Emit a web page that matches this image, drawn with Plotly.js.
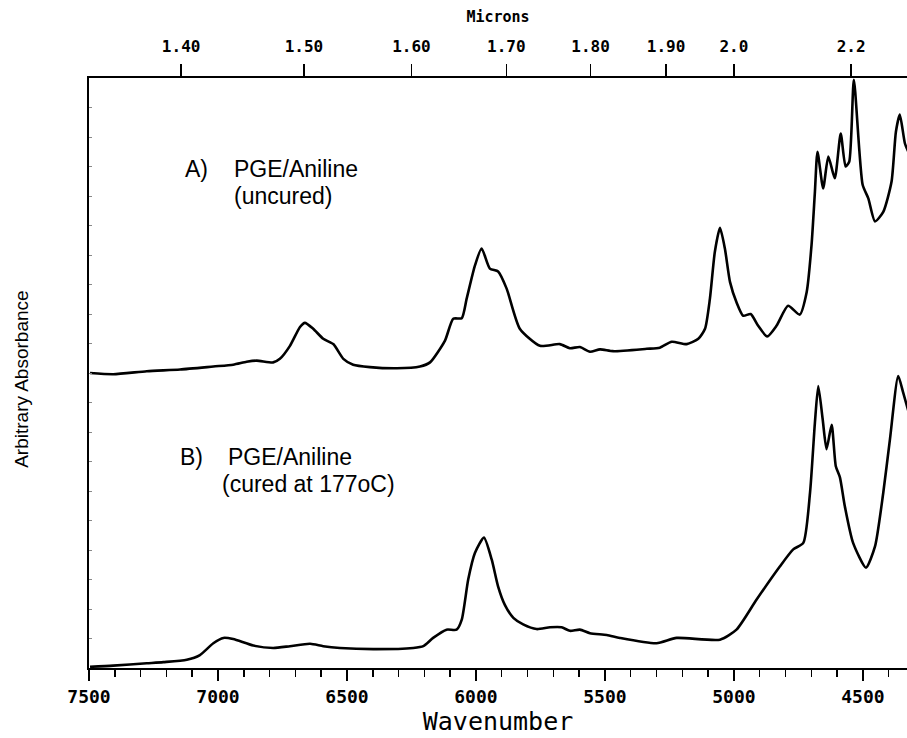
<!DOCTYPE html>
<html>
<head>
<meta charset="utf-8">
<script src="https://cdn.plot.ly/plotly-3.0.1.min.js"></script>
<style>
  html, body { margin: 0; padding: 0; background: #fff; }
  #chart { width: 907px; height: 738px; }
</style>
</head>
<body>
<div id="chart"></div>
<script>
// Wavenumber (cm-1) and arbitrary absorbance
const waveA = [7496, 7406, 7276, 7147, 7018, 6941, 6889, 6850, 6786, 6760, 6721, 6682, 6663, 6631, 6592, 6553, 6514, 6476, 6411, 6307, 6217, 6178, 6120, 6088, 6055, 6036, 6004, 5978, 5946, 5914, 5881, 5830, 5752, 5675, 5636, 5597, 5558, 5519, 5468, 5338, 5287, 5241, 5183, 5138, 5112, 5093, 5074, 5054, 5035, 5015, 4990, 4964, 4935, 4906, 4871, 4835, 4790, 4745, 4718, 4699, 4686, 4676, 4654, 4634, 4609, 4586, 4567, 4553, 4535, 4501, 4479, 4453, 4421, 4389, 4372, 4357, 4337, 4324];
const absA  = [0.500, 0.498, 0.503, 0.506, 0.511, 0.514, 0.519, 0.521, 0.518, 0.524, 0.546, 0.578, 0.585, 0.575, 0.558, 0.549, 0.524, 0.514, 0.510, 0.508, 0.511, 0.518, 0.555, 0.592, 0.593, 0.626, 0.682, 0.711, 0.677, 0.672, 0.643, 0.575, 0.546, 0.549, 0.542, 0.544, 0.536, 0.540, 0.537, 0.541, 0.543, 0.553, 0.549, 0.558, 0.575, 0.626, 0.705, 0.746, 0.711, 0.654, 0.620, 0.597, 0.600, 0.580, 0.562, 0.580, 0.614, 0.599, 0.637, 0.717, 0.807, 0.875, 0.813, 0.867, 0.830, 0.906, 0.850, 0.858, 0.997, 0.819, 0.796, 0.757, 0.773, 0.824, 0.909, 0.938, 0.889, 0.875];

const waveB = [7496, 7406, 7276, 7212, 7121, 7070, 7018, 6979, 6941, 6863, 6786, 6721, 6643, 6592, 6527, 6398, 6243, 6204, 6166, 6114, 6075, 6055, 6030, 6004, 5969, 5939, 5914, 5888, 5855, 5817, 5765, 5713, 5668, 5636, 5597, 5558, 5493, 5442, 5300, 5222, 5054, 4990, 4912, 4822, 4770, 4731, 4705, 4686, 4673, 4656, 4641, 4621, 4605, 4589, 4570, 4538, 4488, 4453, 4421, 4395, 4363, 4344, 4324];
const absB  = [0.002, 0.004, 0.008, 0.010, 0.014, 0.022, 0.042, 0.051, 0.049, 0.038, 0.034, 0.037, 0.041, 0.037, 0.034, 0.032, 0.034, 0.037, 0.051, 0.065, 0.065, 0.082, 0.150, 0.195, 0.221, 0.184, 0.138, 0.107, 0.085, 0.074, 0.066, 0.069, 0.069, 0.063, 0.065, 0.059, 0.056, 0.051, 0.042, 0.051, 0.048, 0.065, 0.116, 0.172, 0.201, 0.212, 0.297, 0.416, 0.478, 0.422, 0.371, 0.412, 0.342, 0.323, 0.274, 0.212, 0.170, 0.206, 0.297, 0.388, 0.495, 0.467, 0.436];

const waveTicks = [7500, 7000, 6500, 6000, 5500, 5000, 4500];
const micronLabels = ['1.40', '1.50', '1.60', '1.70', '1.80', '1.90', '2.0', '2.2'];
const micronValues = [1.40, 1.50, 1.60, 1.70, 1.80, 1.90, 2.0, 2.2];

const labelA = ['A)', 'PGE/Aniline', '(uncured)'];
const labelB = ['B)', 'PGE/Aniline', '(cured at 177oC)'];

const xRange = [7500, 4329];
const plotFont = 'DejaVu Sans Mono, monospace';
const textFont = 'Liberation Sans, Arial, Helvetica, sans-serif';

const lineStyle = { color: '#000', width: 2.6, shape: 'spline', smoothing: 0.6 };
const traces = [
  { x: waveA, y: absA, xaxis: 'x2', yaxis: 'y', mode: 'lines', line: lineStyle, hoverinfo: 'skip', showlegend: false },
  { x: waveB, y: absB, xaxis: 'x', yaxis: 'y', mode: 'lines', line: lineStyle, hoverinfo: 'skip', showlegend: false }
];

function note(text, x, y) {
  return { xref: 'paper', yref: 'paper', x: x, y: y, text: text, showarrow: false,
           xanchor: 'left', yanchor: 'middle', font: { family: textFont, size: 23 } };
}

const layout = {
  width: 907, height: 738,
  margin: { l: 89, r: 0, t: 78, b: 70 },
  paper_bgcolor: '#fff', plot_bgcolor: '#fff',
  font: { family: plotFont, color: '#000' },
  xaxis: {
    range: xRange, showgrid: false, zeroline: false,
    showline: true, linecolor: '#000', linewidth: 2,
    ticks: 'outside', ticklen: 11, tickwidth: 1.5, tickcolor: '#000',
    tickvals: waveTicks, ticktext: waveTicks.map(String),
    tickfont: { family: plotFont, size: 18, weight: 'bold' },
    minor: { dtick: 100, tick0: 7500, ticks: 'outside', ticklen: 7, tickwidth: 1.5, tickcolor: '#000' },
    title: { text: 'Wavenumber', font: { family: plotFont, size: 25 }, standoff: 2 },
    fixedrange: true
  },
  xaxis2: {
    overlaying: 'x', side: 'top', range: xRange,
    showgrid: false, zeroline: false,
    showline: true, linecolor: '#000', linewidth: 2,
    ticks: 'outside', ticklen: 12, tickwidth: 1.5, tickcolor: '#000',
    ticklabelstandoff: 6,
    tickvals: micronValues.map(m => 10000 / m), ticktext: micronLabels,
    tickfont: { family: plotFont, size: 16, weight: 'bold' },
    title: { text: 'Microns', font: { family: plotFont, size: 15, weight: 'bold' }, standoff: 10 },
    fixedrange: true
  },
  yaxis: {
    range: [0, 1], showgrid: false, zeroline: false,
    showline: true, linecolor: '#000', linewidth: 2,
    showticklabels: false, ticks: 'inside', ticklen: 3, tickwidth: 1, tickcolor: '#888', dtick: 0.05,
    fixedrange: true
  },
  annotations: [
    { xref: 'paper', yref: 'paper', x: -0.082, y: 0.49, text: 'Arbitrary Absorbance', textangle: -90, showarrow: false, xanchor: 'center', yanchor: 'middle', font: { family: textFont, size: 19 } },
    note(labelA[0], 0.1149, 0.845),
    note(labelA[1], 0.1748, 0.845),
    note(labelA[2], 0.1748, 0.800),
    note(labelB[0], 0.1088, 0.357),
    note(labelB[1], 0.1675, 0.357),
    note(labelB[2], 0.1601, 0.312)
  ]
};

Plotly.newPlot('chart', traces, layout, { displayModeBar: false, staticPlot: true });
</script>
</body>
</html>
